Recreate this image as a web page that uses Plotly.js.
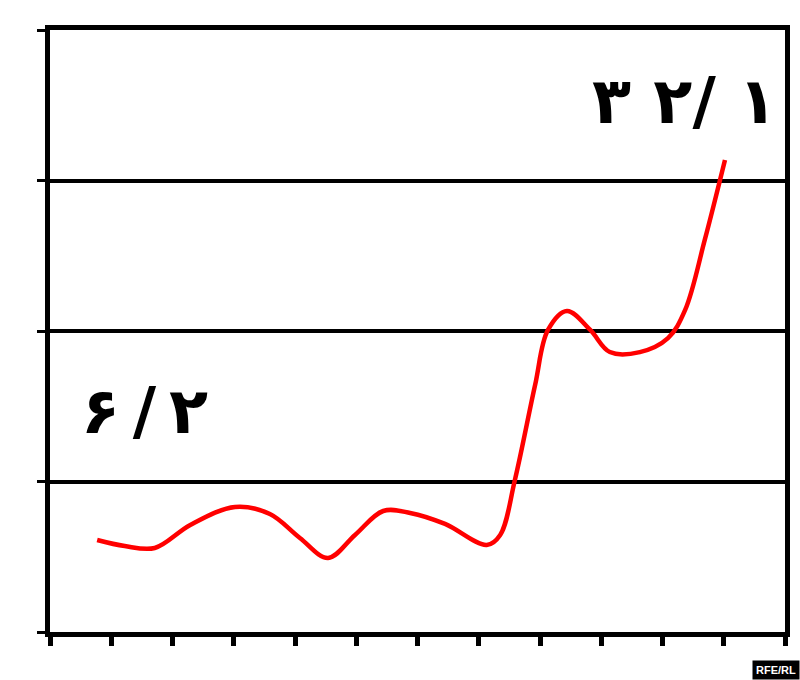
<!DOCTYPE html>
<html>
<head>
<meta charset="utf-8">
<script src="https://cdn.plot.ly/plotly-3.0.1.min.js"></script>
<style>html,body{margin:0;padding:0;background:#fff;}#chart{width:800px;height:680px;}</style>
</head>
<body>
<div id="chart"></div>
<script>
// x positions in axis units (ticks at 0..12), y values
const xVals = [0.77, 1.22, 1.71, 2.29, 3.02, 3.59, 4.08, 4.54, 4.98, 5.44, 5.88, 6.45, 7.13, 7.35, 7.59, 7.92, 8.13, 8.44, 8.82, 9.14, 9.63, 10.09, 10.37, 10.69, 11.02];
const yVals = [6.11, 5.71, 5.58, 7.11, 8.31, 7.84, 6.25, 4.92, 6.45, 8.04, 7.91, 7.18, 5.78, 6.45, 10.10, 16.41, 20.07, 21.33, 20.07, 18.60, 18.60, 19.53, 21.40, 26.05, 31.36];
const xTicks = [0,1,2,3,4,5,6,7,8,9,10,11,12];
const yTicks = [0,10,20,30,40];
const startLabel = '۶\u2009/\u2009۲';
const endLabel = '۳\u00a0۲/\u00a0۱';

const trace = {
  x: xVals, y: yVals, type: 'scatter', mode: 'lines',
  line: {color: '#ff0000', width: 4.5, shape: 'spline', smoothing: 1},
  hoverinfo: 'skip'
};

const layout = {
  width: 800, height: 680,
  margin: {l: 50, r: 15, t: 30, b: 48},
  paper_bgcolor: '#ffffff', plot_bgcolor: '#ffffff',
  showlegend: false,
  xaxis: {
    range: [0, 12], tickvals: xTicks, showticklabels: false,
    ticks: 'outside', ticklen: 9, tickwidth: 5, tickcolor: '#000',
    showgrid: false, zeroline: false,
    showline: true, linecolor: '#000', linewidth: 5, mirror: true
  },
  yaxis: {
    range: [0, 40], tickvals: yTicks, showticklabels: false,
    ticks: 'outside', ticklen: 8, tickwidth: 3, tickcolor: '#000',
    showgrid: true, gridcolor: '#000', gridwidth: 4, zeroline: false,
    showline: true, linecolor: '#000', linewidth: 5, mirror: true
  },
  annotations: [
    {x: 11.9, y: 35.3, xref: 'x', yref: 'y', text: '<b>' + endLabel + '</b>', showarrow: false,
     font: {family: 'DejaVu Sans', size: 64, color: '#000'}, xanchor: 'right', yanchor: 'middle'},
    {x: 0.48, y: 14.7, xref: 'x', yref: 'y', text: '<b>' + startLabel + '</b>', showarrow: false,
     font: {family: 'DejaVu Sans', size: 64, color: '#000'}, xanchor: 'left', yanchor: 'middle'},
    {x: 1, y: 0, xref: 'paper', yref: 'paper', yshift: -48, xshift: 15, text: '<b>RFE/RL</b>', showarrow: false,
     font: {family: 'Liberation Sans', size: 11, color: '#fff'}, bgcolor: '#000',
     xanchor: 'right', yanchor: 'bottom', borderpad: 3}
  ]
};

Plotly.newPlot('chart', [trace], layout, {displayModeBar: false, staticPlot: true});
</script>
</body>
</html>
